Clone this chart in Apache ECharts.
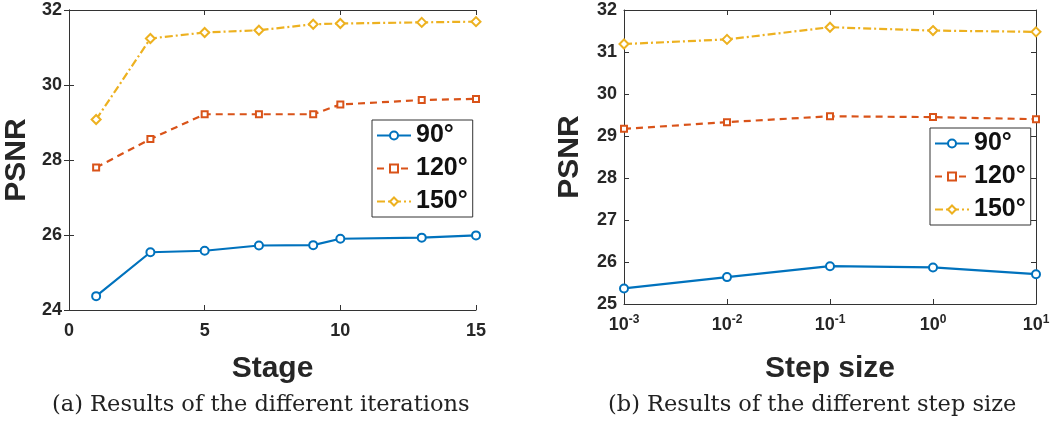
<!DOCTYPE html>
<html><head><meta charset="utf-8">
<script src="https://cdn.jsdelivr.net/npm/echarts@6/dist/echarts.min.js"></script>
<style>html,body{margin:0;padding:0;background:#fff}#c{width:1055px;height:434px}</style>
</head><body><div id="c"></div>
<script>
const seriesNames = ['90°', '120°', '150°'];
const stages = [1, 3, 5, 7, 9, 10, 13, 15];
const stage90 = [24.37, 25.54, 25.58, 25.72, 25.73, 25.90, 25.93, 25.99];
const stage120 = [27.80, 28.56, 29.22, 29.22, 29.22, 29.48, 29.60, 29.63];
const stage150 = [29.08, 31.24, 31.40, 31.46, 31.62, 31.64, 31.67, 31.69];
const steps = [0.001, 0.01, 0.1, 1, 10];
const step90 = [25.37, 25.64, 25.90, 25.87, 25.71];
const step120 = [29.17, 29.33, 29.47, 29.45, 29.40];
const step150 = [31.19, 31.30, 31.59, 31.51, 31.48];
const captions = ['(a) Results of the different iterations', '(b) Results of the different step size'];

const colors = ['#0072BD', '#D95319', '#EDB120'];
const lineTypes = ['solid', [7, 5], [8, 3, 2, 3]];
const symbols = ['emptyCircle', 'emptyRect', 'emptyDiamond'];
const symbolSizes = [8, 6, 9];
const FONT = 'Liberation Sans';
const LBL = '#262626';

function mkSeries(xi, vals, xs) {
  return vals.map((v, i) => ({
    name: seriesNames[i], type: 'line', xAxisIndex: xi, yAxisIndex: xi,
    data: xs.map((x, k) => [x, v[k]]),
    symbol: symbols[i], symbolSize: symbolSizes[i],
    lineStyle: { color: colors[i], width: 2.2, type: lineTypes[i] },
    itemStyle: { color: colors[i], borderWidth: 1.6 },
    z: 5 - i
  }));
}

const tickIn = { inside: true, length: 5, lineStyle: { color: '#333' } };
const axisLine = { show: true, lineStyle: { color: '#333', width: 1 } };
const labelStyle = { color: LBL, fontFamily: FONT, fontWeight: 'bold', fontSize: 18 };
const nameStyle = { color: LBL, fontFamily: FONT, fontWeight: 'bold', fontSize: 30 };
const legendCommon = { orient: 'vertical', data: seriesNames, itemWidth: 34, itemHeight: 10, itemGap: 8,
  backgroundColor: '#fff', borderColor: '#333', borderWidth: 1, padding: [3, 5, 3, 4],
  textStyle: { fontFamily: FONT, fontWeight: 'bold', fontSize: 25, color: '#111' } };

const chart = echarts.init(document.getElementById('c'));
chart.setOption({
  animation: false,
  grid: [
    { left: 69, top: 10, width: 407, height: 300 },
    { left: 624, top: 10, width: 412, height: 294 }
  ],
  xAxis: [
    { gridIndex: 0, type: 'value', min: 0, max: 15, interval: 5, position: 'bottom',
      axisLine, axisTick: tickIn, splitLine: { show: false },
      axisLabel: Object.assign({ margin: 12 }, labelStyle),
      name: 'Stage', nameLocation: 'middle', nameGap: 44, nameTextStyle: nameStyle },
    { gridIndex: 1, type: 'log', logBase: 10, min: 0.001, max: 10, position: 'bottom',
      axisLine, axisTick: tickIn, splitLine: { show: false }, minorTick: { show: false },
      axisLabel: Object.assign({ margin: 10,
        formatter: v => '{b|10}{s|' + Math.round(Math.log10(v)) + '}',
        rich: { b: { fontFamily: FONT, fontWeight: 'bold', fontSize: 18, color: LBL },
                s: { fontFamily: FONT, fontWeight: 'bold', fontSize: 12, color: LBL, verticalAlign: 'top', padding: [0, 0, 10, 0] } }
      }, labelStyle),
      name: 'Step size', nameLocation: 'middle', nameGap: 50, nameTextStyle: nameStyle },
    { gridIndex: 0, type: 'value', min: 0, max: 15, interval: 5, position: 'top',
      axisLine, axisTick: tickIn, axisLabel: { show: false }, splitLine: { show: false } },
    { gridIndex: 1, type: 'log', logBase: 10, min: 0.001, max: 10, position: 'top',
      axisLine, axisTick: tickIn, axisLabel: { show: false }, splitLine: { show: false } }
  ],
  yAxis: [
    { gridIndex: 0, type: 'value', min: 24, max: 32, interval: 2, position: 'left',
      axisLine, axisTick: tickIn, splitLine: { show: false },
      axisLabel: Object.assign({ margin: 7 }, labelStyle),
      name: 'PSNR', nameLocation: 'middle', nameGap: 37, nameTextStyle: nameStyle },
    { gridIndex: 1, type: 'value', min: 25, max: 32, interval: 1, position: 'left',
      axisLine, axisTick: tickIn, splitLine: { show: false },
      axisLabel: Object.assign({ margin: 7 }, labelStyle),
      name: 'PSNR', nameLocation: 'middle', nameGap: 39, nameTextStyle: nameStyle },
    { gridIndex: 0, type: 'value', min: 24, max: 32, interval: 2, position: 'right',
      axisLine, axisTick: tickIn, axisLabel: { show: false }, splitLine: { show: false } },
    { gridIndex: 1, type: 'value', min: 25, max: 32, interval: 1, position: 'right',
      axisLine, axisTick: tickIn, axisLabel: { show: false }, splitLine: { show: false } }
  ],
  legend: [
    Object.assign({ left: 372, top: 120 }, legendCommon),
    Object.assign({ left: 930, top: 128 }, legendCommon)
  ],
  graphic: [
    { type: 'text', left: 52, top: 394, style: { text: captions[0], font: '22.5px "DejaVu Serif"', fill: '#222' } },
    { type: 'text', left: 608, top: 394, style: { text: captions[1], font: '22.5px "DejaVu Serif"', fill: '#222' } }
  ],
  series: [].concat(
    mkSeries(0, [stage90, stage120, stage150], stages),
    mkSeries(1, [step90, step120, step150], steps)
  )
});
</script></body></html>
